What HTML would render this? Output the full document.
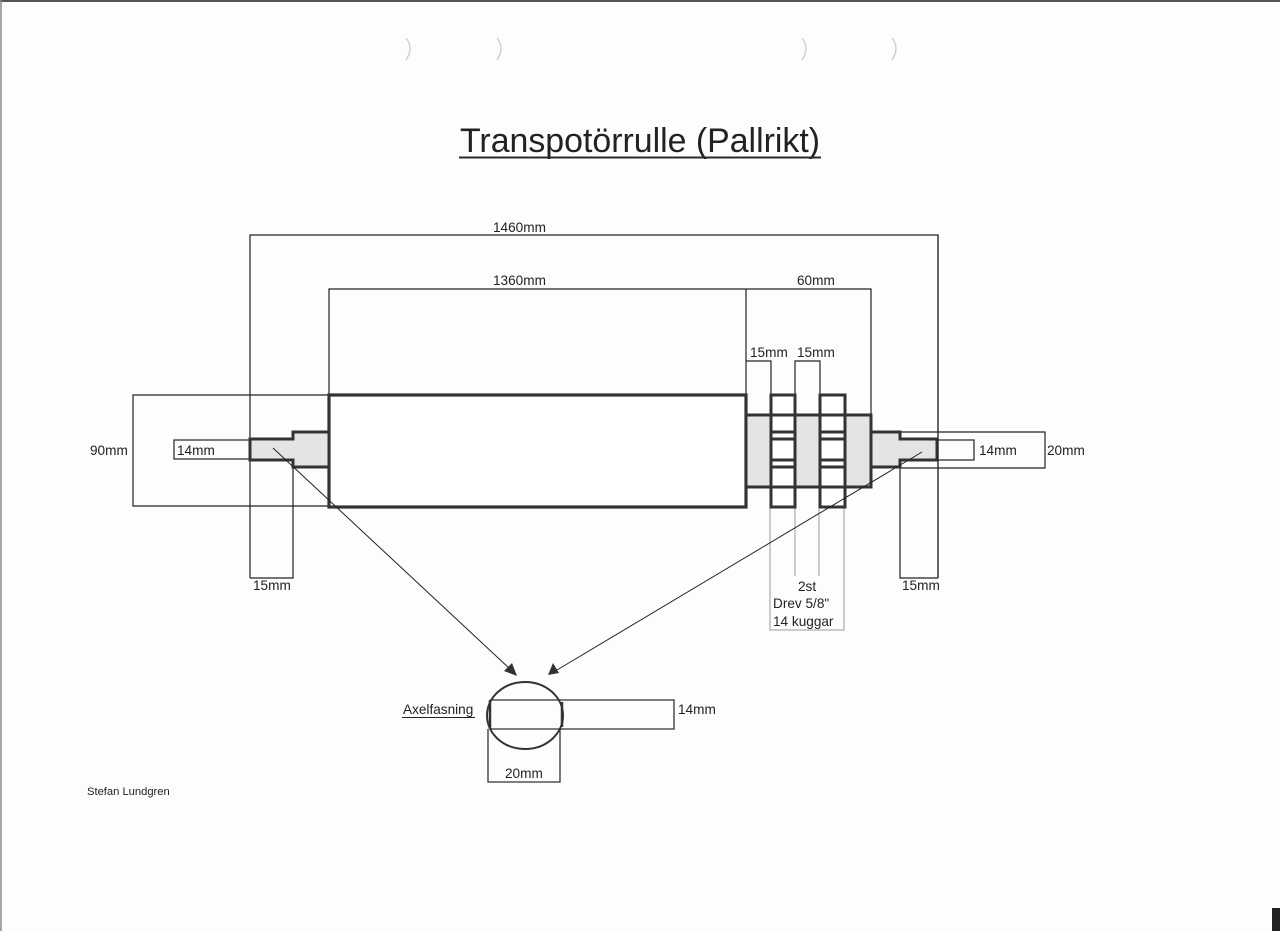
<!DOCTYPE html>
<html>
<head>
<meta charset="utf-8">
<style>
  html,body{margin:0;padding:0;background:#fff;}
  body{width:1280px;height:931px;overflow:hidden;position:relative;}
  svg{position:absolute;left:0;top:0;}
  text{font-family:"Liberation Sans", Arial, sans-serif;fill:#222;}
</style>
</head>
<body>
<svg width="1280" height="931" viewBox="0 0 1280 931" xmlns="http://www.w3.org/2000/svg">
  <rect x="0" y="0" width="1280" height="931" fill="#fdfdfd"/>
  <!-- scan edges -->
  <line x1="0" y1="1" x2="1280" y2="1" stroke="#555" stroke-width="2"/>
  <line x1="1" y1="0" x2="1" y2="931" stroke="#888" stroke-width="1.5"/>
  <rect x="1272" y="908" width="8" height="23" fill="#222"/>
  <!-- punch hole marks -->
  <g fill="none" stroke="#c8c8c8" stroke-width="1.2">
    <path d="M406 38 Q414 48 406 60"/>
    <path d="M497 38 Q505 48 497 60"/>
    <path d="M802 38 Q810 48 802 60"/>
    <path d="M892 38 Q900 48 892 60"/>
  </g>

  <!-- Title -->
  <text x="460" y="152" font-size="34" textLength="360" lengthAdjust="spacingAndGlyphs" fill="#2a2a2a">Transpotörrulle (Pallrikt)</text>
  <line x1="459" y1="157.5" x2="821" y2="157.5" stroke="#2a2a2a" stroke-width="2"/>

  <!-- thin dimension lines -->
  <g stroke="#222" stroke-width="1.2" fill="none">
    <!-- 1460 -->
    <polyline points="250,578 250,235 938,235 938,578"/>
    <polyline points="250,578 293,578 293,467"/>
    <polyline points="900,467 900,578 938,578"/>
    <!-- 1360 + 60 -->
    <polyline points="329,395 329,289 871,289 871,415"/>
    <line x1="746" y1="289" x2="746" y2="395"/>
    <!-- 15mm 15mm -->
    <polyline points="746,361 771,361 771,395"/>
    <polyline points="795,395 795,361 820,361 820,395"/>
    <!-- 90mm -->
    <polyline points="329,395 133,395 133,506 329,506"/>
    <!-- 14mm left -->
    <rect x="174" y="440" width="76" height="19"/>
    <!-- 20mm right -->
    <polyline points="900,432 1045,432 1045,468 900,468"/>
    <!-- 14mm right -->
    <rect x="937" y="440" width="37" height="20"/>
  </g>

  <!-- gear dims (gray) -->
  <g stroke="#9a9a9a" stroke-width="1" fill="none">
    <polyline points="770,507 770,630 844,630 844,507"/>
    <line x1="795" y1="507" x2="795" y2="576"/>
    <line x1="819" y1="507" x2="819" y2="576"/>
  </g>

  <!-- Roller -->
  <rect x="329" y="395" width="417" height="112" fill="#fff" stroke="#333" stroke-width="3.2"/>

  <!-- Left shaft -->
  <polygon points="329,432 293,432 293,439 250,439 250,460 293,460 293,467 329,467" fill="#e4e4e4" stroke="#333" stroke-width="3"/>

  <!-- Hub -->
  <rect x="746" y="415" width="125" height="72" fill="#e4e4e4" stroke="#333" stroke-width="3"/>
  <!-- Right shaft -->
  <polygon points="871,432 900,432 900,439 937,439 937,460 900,460 900,467 871,467" fill="#e4e4e4" stroke="#333" stroke-width="3"/>

  <!-- Gears -->
  <g stroke="#333" stroke-width="3" fill="#fff">
    <rect x="771" y="395" width="24" height="112"/>
    <rect x="820" y="395" width="25" height="112"/>
  </g>
  <g stroke="#333" stroke-width="3">
    <line x1="771" y1="415" x2="795" y2="415"/>
    <line x1="771" y1="432" x2="795" y2="432"/>
    <line x1="771" y1="439" x2="795" y2="439"/>
    <line x1="771" y1="460" x2="795" y2="460"/>
    <line x1="771" y1="467" x2="795" y2="467"/>
    <line x1="771" y1="487" x2="795" y2="487"/>
    <line x1="820" y1="415" x2="845" y2="415"/>
    <line x1="820" y1="432" x2="845" y2="432"/>
    <line x1="820" y1="439" x2="845" y2="439"/>
    <line x1="820" y1="460" x2="845" y2="460"/>
    <line x1="820" y1="467" x2="845" y2="467"/>
    <line x1="820" y1="487" x2="845" y2="487"/>
  </g>
  <!-- re-draw 1460 line over right shaft end -->
  <line x1="938" y1="235" x2="938" y2="578" stroke="#222" stroke-width="1.2"/>

  <!-- Arrows -->
  <g stroke="#222" stroke-width="1">
    <line x1="273" y1="448" x2="510" y2="669"/>
    <line x1="922" y1="452" x2="557" y2="670"/>
  </g>
  <polygon points="517,676 504,671 512,663" fill="#333"/>
  <polygon points="548,675 553,663 559,673" fill="#333"/>

  <!-- Axle detail -->
  <ellipse cx="525" cy="715.5" rx="38" ry="33.5" fill="none" stroke="#333" stroke-width="2"/>
  <g stroke="#333" stroke-width="1.3" fill="none">
    <polyline points="490,700 674,700 674,729 490,729"/>
    <polyline points="488,729 488,782 560,782 560,729"/>
  </g>
  <line x1="490" y1="700" x2="490" y2="729" stroke="#333" stroke-width="2.5"/>
  <line x1="562" y1="702" x2="562" y2="727" stroke="#333" stroke-width="2.5"/>

  <!-- Labels -->
  <g font-size="13.6">
    <text x="493" y="232">1460mm</text>
    <text x="493" y="285">1360mm</text>
    <text x="797" y="285">60mm</text>
    <text x="750" y="357">15mm</text>
    <text x="797" y="357">15mm</text>
    <text x="90" y="455">90mm</text>
    <text x="177" y="455">14mm</text>
    <text x="979" y="455">14mm</text>
    <text x="1047" y="455">20mm</text>
    <text x="253" y="590">15mm</text>
    <text x="902" y="590">15mm</text>
    <text x="798" y="591">2st</text>
    <text x="773" y="608">Drev 5/8"</text>
    <text x="773" y="626">14 kuggar</text>
    <text x="403" y="714">Axelfasning</text>
    <text x="678" y="714">14mm</text>
    <text x="505" y="778">20mm</text>
  </g>
  <line x1="402" y1="717.5" x2="475" y2="717.5" stroke="#222" stroke-width="1"/>
  <text x="87" y="795" font-size="11.2">Stefan Lundgren</text>
</svg>
</body>
</html>
